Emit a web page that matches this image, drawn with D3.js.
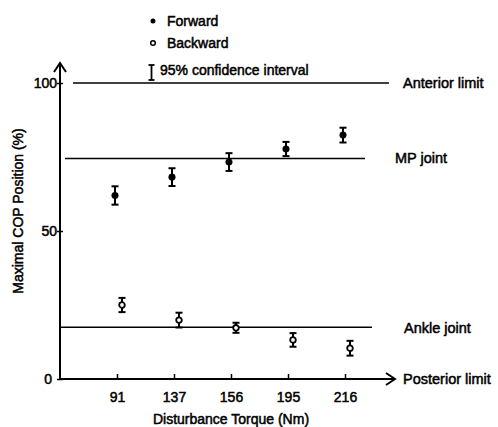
<!DOCTYPE html>
<html>
<head>
<meta charset="utf-8">
<script src="https://cdn.jsdelivr.net/npm/d3@7"></script>
<style>
  html, body { margin: 0; padding: 0; background: #fff; }
  svg { display: block; }
  text { font-family: "Liberation Sans", Arial, Helvetica, sans-serif; fill: #000; }
</style>
</head>
<body>
<script>
// Disturbance torque levels (Nm)
const torques = ["91", "137", "156", "195", "216"];
// Maximal COP position (% of foot length) and 95% CI half-widths
const forwardMean = [62, 68.2, 73.3, 77.7, 82.4];
const forwardCI = [3.1, 3.0, 3.0, 2.4, 2.5];
const backwardMean = [25, 19.9, 17.3, 13.2, 10.4];
const backwardCI = [2.4, 2.5, 1.7, 2.3, 2.5];
// Anatomical reference lines
const refNames = ["Anterior limit", "MP joint", "Ankle joint"];
const refValues = [100, 74.5, 17.5];
const yTicks = [0, 50, 100];

const W = 498, H = 427;
const TEXT_STROKE = 0.5;
const svg = d3.select("body").append("svg").attr("width", W).attr("height", H);

const x = d3.scalePoint().domain(torques).range([117, 345]);
const y = d3.scaleLinear().domain([0, 100]).range([379, 83]);
const x0 = 60;

// reference lines
const refSpans = [[73, 389], [65, 365], [60, 372]];
const refLabel = [{dx: 403, dy: 5}, {dx: 395, dy: 5}, {dx: 404, dy: 6}];
refValues.forEach((v, i) => {
  svg.append("line")
    .attr("x1", refSpans[i][0]).attr("x2", refSpans[i][1])
    .attr("y1", y(v)).attr("y2", y(v))
    .attr("stroke", "#000").attr("stroke-width", 1.6);
  svg.append("text")
    .attr("x", refLabel[i].dx).attr("y", y(v) + refLabel[i].dy)
    .attr("font-size", 14.5)
    .attr("stroke", "#000").attr("stroke-width", TEXT_STROKE)
    .text(refNames[i]);
});

// axes
const axisG = svg.append("g").attr("stroke", "#000").attr("stroke-width", 2).attr("fill", "none");
axisG.append("line").attr("x1", x0).attr("x2", x0).attr("y1", y(0) + 1).attr("y2", 63);
axisG.append("path").attr("d", `M${x0 - 6},${72} L${x0},${63} L${x0 + 6},${72}`);
axisG.append("line").attr("x1", x0 - 1).attr("x2", 395).attr("y1", y(0)).attr("y2", y(0));
axisG.append("path").attr("d", `M${386},${y(0) - 6} L${395},${y(0)} L${386},${y(0) + 6}`);

// x ticks
const xAxis = d3.axisBottom(x).tickSize(0).tickPadding(0);
const gx = svg.append("g").attr("transform", `translate(0,${y(0)})`).call(xAxis);
gx.select(".domain").remove();
gx.selectAll(".tick").append("line").attr("y1", 0).attr("y2", -5)
  .attr("stroke", "#000").attr("stroke-width", 1.5);
gx.selectAll(".tick text")
  .attr("y", 18).attr("dy", "0.35em")
  .attr("font-size", 14).attr("font-family", "Liberation Sans, Arial, sans-serif")
  .attr("stroke", "#000").attr("stroke-width", TEXT_STROKE);

// y ticks
const yAxis = d3.axisLeft(y).tickValues(yTicks).tickSize(0).tickPadding(0);
const gy = svg.append("g").attr("transform", `translate(${x0},0)`).call(yAxis);
gy.select(".domain").remove();
gy.selectAll(".tick").append("line").attr("x1", -3).attr("x2", 3)
  .attr("stroke", "#000").attr("stroke-width", 1.5);
gy.selectAll(".tick text")
  .attr("x", d => d === 0 ? -8 : -3)
  .attr("font-size", 14).attr("font-family", "Liberation Sans, Arial, sans-serif")
  .attr("stroke", "#000").attr("stroke-width", TEXT_STROKE);

// axis titles
svg.append("text")
  .attr("x", 231).attr("y", 424).attr("text-anchor", "middle")
  .attr("font-size", 14).attr("stroke", "#000").attr("stroke-width", TEXT_STROKE)
  .text("Disturbance Torque (Nm)");
svg.append("text")
  .attr("transform", "translate(23,211) rotate(-90)")
  .attr("text-anchor", "middle")
  .attr("font-size", 14).attr("stroke", "#000").attr("stroke-width", TEXT_STROKE)
  .text("Maximal COP Position (%)");

// error bars + markers
function series(means, cis, dx, filled) {
  const g = svg.append("g");
  const rows = torques.map((t, i) => ({t, m: means[i], c: cis[i]}));
  const eb = g.selectAll("g.eb").data(rows).join("g")
    .attr("transform", d => `translate(${x(d.t) + dx},0)`);
  eb.append("line").attr("y1", d => y(d.m - d.c)).attr("y2", d => y(d.m + d.c))
    .attr("stroke", "#000").attr("stroke-width", 2);
  eb.append("line").attr("x1", -3.5).attr("x2", 3.5)
    .attr("y1", d => y(d.m + d.c)).attr("y2", d => y(d.m + d.c))
    .attr("stroke", "#000").attr("stroke-width", 2);
  eb.append("line").attr("x1", -3.5).attr("x2", 3.5)
    .attr("y1", d => y(d.m - d.c)).attr("y2", d => y(d.m - d.c))
    .attr("stroke", "#000").attr("stroke-width", 2);
  eb.append("circle").attr("cy", d => y(d.m)).attr("r", filled ? 3.3 : 2.8)
    .attr("fill", filled ? "#000" : "#fff")
    .attr("stroke", "#000").attr("stroke-width", filled ? 0.5 : 1.8);
}
series(forwardMean, forwardCI, -2, true);
series(backwardMean, backwardCI, 5, false);

// legend
const lg = svg.append("g");
lg.append("circle").attr("cx", 153).attr("cy", 21).attr("r", 2.5).attr("fill", "#000");
lg.append("circle").attr("cx", 153).attr("cy", 43).attr("r", 2.3)
  .attr("fill", "#fff").attr("stroke", "#000").attr("stroke-width", 1.5);
const ci = lg.append("g").attr("stroke", "#000").attr("stroke-width", 1.8);
ci.append("line").attr("x1", 151.5).attr("x2", 151.5).attr("y1", 65).attr("y2", 80);
ci.append("line").attr("x1", 148.5).attr("x2", 154.5).attr("y1", 65).attr("y2", 65);
ci.append("line").attr("x1", 148.5).attr("x2", 154.5).attr("y1", 80).attr("y2", 80);
const legendText = ["Forward", "Backward", "95% confidence interval"];
const legendY = [26, 48, 75];
legendText.forEach((t, i) => {
  lg.append("text").attr("x", i === 2 ? 160 : 167).attr("y", legendY[i])
    .attr("font-size", 14).attr("stroke", "#000").attr("stroke-width", TEXT_STROKE)
    .text(t);
});

// posterior limit label on the x-axis arrow
svg.append("text").attr("x", 403).attr("y", y(0) + 5)
  .attr("font-size", 14.5).attr("stroke", "#000").attr("stroke-width", TEXT_STROKE)
  .text("Posterior limit");
</script>
</body>
</html>
